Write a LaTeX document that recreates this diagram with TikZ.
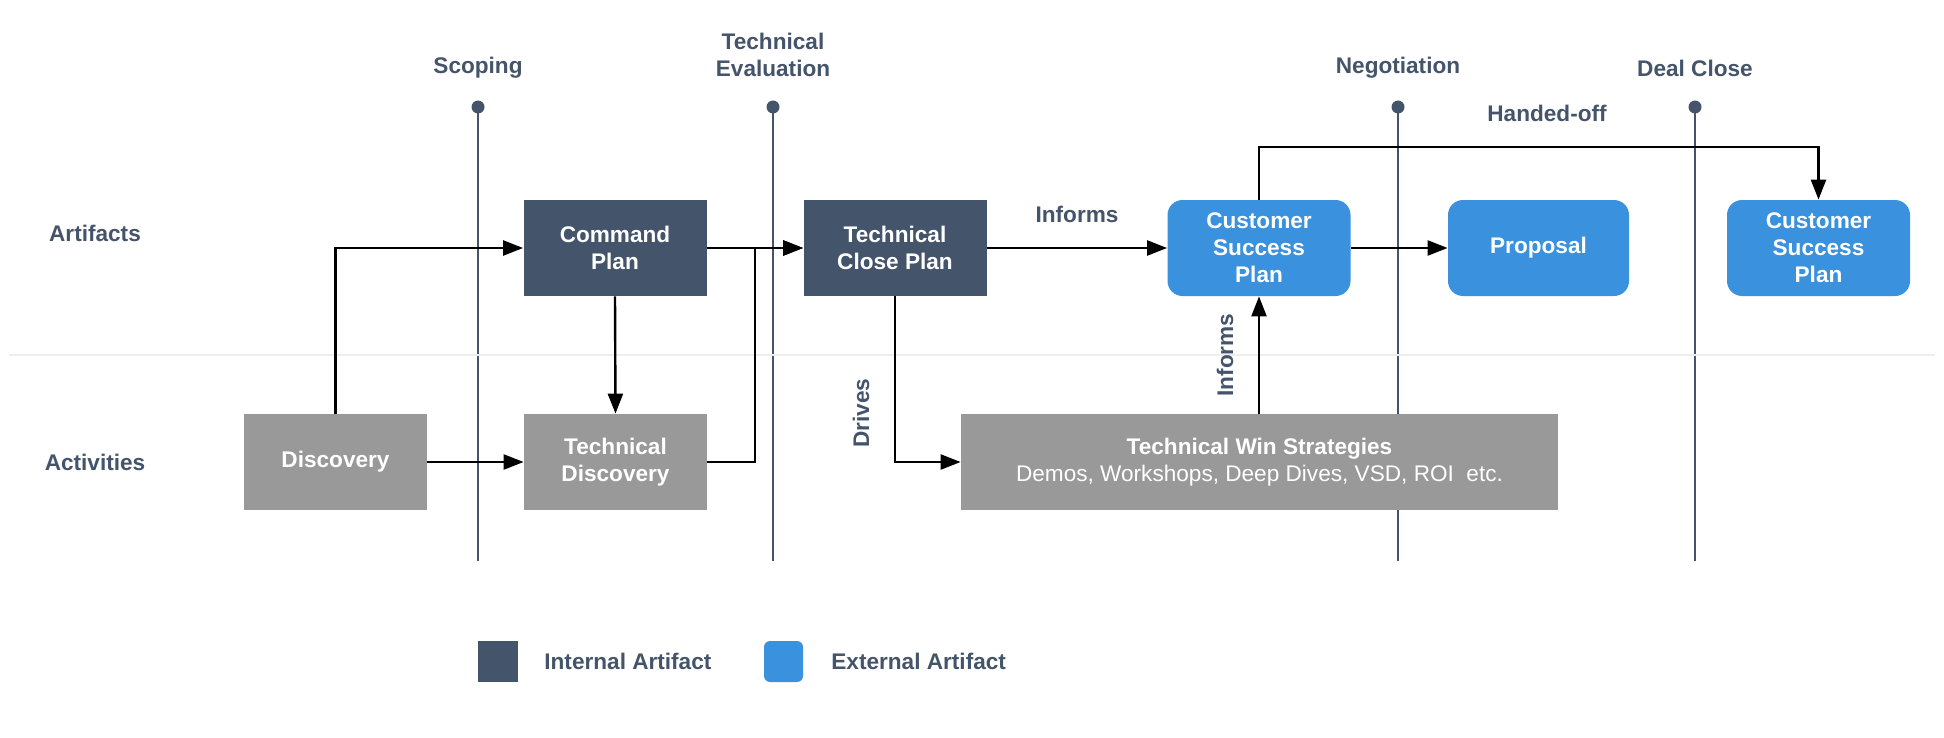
\documentclass[tikz,border=0pt]{standalone}
\usepackage{fontspec}
\setmainfont{Liberation Sans}
\usetikzlibrary{arrows.meta}
\definecolor{slate}{HTML}{44546A}
\definecolor{skyblue}{HTML}{3A91DE}
\definecolor{actgray}{HTML}{999999}
\definecolor{sepgray}{HTML}{EEEEEE}
\tikzset{
  intbox/.style={fill=slate, text=white, font=\bfseries\fontsize{11.3}{13.5}\selectfont, align=center,
    minimum width=91.5pt, minimum height=48pt, inner sep=0pt},
  extbox/.style={intbox, fill=skyblue, rounded corners=7.5pt},
  actbox/.style={intbox, fill=actgray},
  lbl/.style={text=slate, font=\bfseries\fontsize{11.3}{13.5}\selectfont, align=center, inner sep=0pt},
  flow/.style={draw=black, line width=1.2pt, -{Triangle[length=10pt,width=7.5pt]}},
  phaseline/.style={draw=slate, line width=1pt}
}
\begin{document}
\begin{tikzpicture}[x=0.5pt,y=-0.5pt]
\useasboundingbox (0,0) rectangle (1944,738);

% phase lines
\foreach \x in {478,773,1398,1695} {
  \draw[phaseline] (\x,107) -- (\x,561);
  \fill[slate] (\x,107) circle (3.25pt);
}
\node[lbl] (scoping) at (478,68) {Scoping};
\node[lbl] (teval) at (773,55) {Technical\\Evaluation};
\node[lbl] (nego) at (1398,68) {Negotiation};
\node[lbl] (dealclose) at (1695,68) {Deal Close};

\draw[sepgray, line width=1pt] (9,355) -- (1935,355);
\node[lbl] (artifacts) at (95,233) {Artifacts};
\node[lbl] (activities) at (95,462) {Activities};

% artifacts
\node[intbox] (cp) at (615,248) {Command\\Plan};
\node[intbox] (tcp) at (895,248) {Technical\\Close Plan};
\node[extbox] (csp) at (1259,248) {Customer\\Success\\Plan};
\node[extbox, minimum width=90.5pt] (prop) at (1538.5,248) {Proposal};
\node[extbox] (csplan) at (1818.5,248) {Customer\\Success\\Plan};

% activities
\node[actbox] (disc) at (335.5,462) {Discovery};
\node[actbox] (tdisc) at (615.5,462) {Technical\\Discovery};
\node[actbox, minimum width=298.5pt] (tws) at (1259.5,462) {Technical Win Strategies\\\mdseries Demos, Workshops, Deep Dives, VSD, ROI\ \ etc.};

\coordinate (merge) at (755,355);
\coordinate (handoff) at (1540,147);

\draw[flow] (disc.east) -- (tdisc.west);
\draw[flow] (disc.north) |- (cp.west);
\draw[flow] (cp.south) -- (tdisc.north);
\draw[flow] (cp.east) -- (tcp.west);
\draw[flow] (tdisc.east) -| (merge) |- (tcp.west);
\draw[flow] (tcp.east) -- (csp.west);
\draw[flow] (tcp.south) |- (tws.west);
\draw[flow] (tws.north -| csp.south) -- (csp.south);
\draw[flow] (csp.east) -- (prop.west);
\draw[flow] (csp.north) |- (handoff) -| (csplan.north);

\node[lbl] (informs) at (1077,214) {Informs};
\node[lbl, rotate=90] (drives) at (861,413) {Drives};
\node[lbl, rotate=90] (informsup) at (1225,355) {Informs};
\node[lbl] (handed) at (1547,113) {Handed-off};

% legend
\node[intbox, minimum width=20pt, minimum height=20.5pt] (legint) at (498,661.5) {};
\node[lbl, anchor=west] (legintlbl) at (544,661.5) {Internal Artifact};
\node[extbox, minimum width=19.5pt, minimum height=20.5pt, rounded corners=3pt] (legext) at (783.5,661.5) {};
\node[lbl, anchor=west] (legextlbl) at (831,661.5) {External Artifact};
\end{tikzpicture}
\end{document}
